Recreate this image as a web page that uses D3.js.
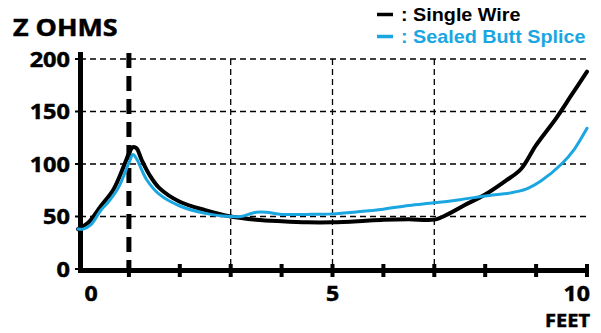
<!DOCTYPE html>
<html>
<head>
<meta charset="utf-8">
<script src="https://cdn.jsdelivr.net/npm/d3@7/dist/d3.min.js"></script>
<style>
  html, body { margin: 0; padding: 0; background: #fff; }
  svg { display: block; }
  .lbl { font-family: "Open Sans", "Noto Sans", sans-serif; font-weight: 700; fill: #000; stroke: #000; stroke-width: 0.5px; }
  .leg { font-family: "Liberation Sans", Arial, sans-serif; font-weight: 700; }
</style>
</head>
<body>
<svg id="chart" width="601" height="333"></svg>
<script>
// Impedance profile along the cable (distance in feet, impedance in ohms)
const singleWireFeet = [0, 0.2, 0.45, 0.7, 0.9, 1.0, 1.08, 1.15, 1.25, 1.4, 1.6, 2.0, 2.5, 3.0, 3.5, 4.0, 4.5, 5.0, 5.5, 6.0, 6.5, 7.0, 7.3, 7.6, 8.0, 8.4, 8.7, 9.0, 9.4, 9.7, 10.0];
const singleWireZ    = [38, 44, 60, 76, 98, 110, 116, 115, 104, 90, 77, 64, 56, 50, 47, 45.5, 44.5, 44.5, 45.5, 47, 47.5, 47, 53, 61, 71, 84, 95, 118, 144, 166, 188];

const sealedButtFeet = [0, 0.1, 0.25, 0.45, 0.6, 0.8, 1.0, 1.08, 1.15, 1.35, 1.6, 2.0, 2.5, 3.0, 3.2, 3.5, 3.7, 4.0, 4.5, 5.0, 5.5, 6.0, 6.5, 7.0, 7.5, 8.0, 8.5, 8.8, 9.1, 9.5, 9.75, 10.0];
const sealedButtZ    = [38, 38, 42, 56, 64, 78, 101, 109, 105, 85, 71, 60, 53, 50, 50, 54, 54, 52, 52, 52.5, 54.5, 57, 60.5, 63, 66, 69.5, 72.5, 76, 84, 100, 114, 134];

const yTicks = [0, 50, 100, 150, 200];
const xTicks = [1, 2, 3, 4, 5, 6, 7, 8, 9, 10];
const xLabels = [0, 5, 10];
const xGrid = [3, 5, 7];
const spliceMark = 1;

const legendItems = [
  { name: "Single Wire", color: "#000000" },
  { name: "Sealed Butt Splice", color: "#1aa6e0" }
];

const svg = d3.select("#chart");
const x = d3.scaleLinear().domain([0, 10]).range([78, 587]);
const y = d3.scaleLinear().domain([0, 200]).range([269, 59]);

// stretch a text node horizontally by a factor
function widen(sel, k) {
  sel.each(function () {
    const w = this.getComputedTextLength();
    d3.select(this).attr("textLength", w * k).attr("lengthAdjust", "spacingAndGlyphs");
  });
}

// horizontal grid
svg.append("g").selectAll("line").data(yTicks.filter(d => d > 0)).join("line")
  .attr("x1", 80).attr("x2", x(10))
  .attr("y1", d => y(d)).attr("y2", d => y(d))
  .attr("stroke", "#000").attr("stroke-width", 1.3).attr("stroke-dasharray", "6,4");

// vertical grid
svg.append("g").selectAll("line").data(xGrid).join("line")
  .attr("x1", d => x(d)).attr("x2", d => x(d))
  .attr("y1", y(200)).attr("y2", 270)
  .attr("stroke", "#000").attr("stroke-width", 1.3).attr("stroke-dasharray", "6,4");

// splice location marker
svg.append("line")
  .attr("x1", x(spliceMark)).attr("x2", x(spliceMark))
  .attr("y1", 53).attr("y2", 270)
  .attr("stroke", "#000").attr("stroke-width", 5).attr("stroke-dasharray", "15,8");

// y tick marks and labels
svg.append("g").selectAll("line").data(yTicks).join("line")
  .attr("x1", 75).attr("x2", 81)
  .attr("y1", d => y(d)).attr("y2", d => y(d))
  .attr("stroke", "#000").attr("stroke-width", 2);

svg.append("g").selectAll("text").data(yTicks).join("text")
  .attr("class", "lbl")
  .attr("x", 70).attr("y", d => y(d) + 7.5)
  .attr("text-anchor", "end")
  .attr("font-size", 21)
  .text(d => d)
  .call(widen, 1.12);

// x tick marks
svg.append("g").selectAll("line").data(xTicks).join("line")
  .attr("x1", d => x(d)).attr("x2", d => x(d))
  .attr("y1", 264).attr("y2", 277)
  .attr("stroke", "#000").attr("stroke-width", 4);

// axes
svg.append("line").attr("x1", 80.5).attr("x2", 80.5).attr("y1", 52).attr("y2", 273)
  .attr("stroke", "#000").attr("stroke-width", 5);
svg.append("line").attr("x1", 78).attr("x2", x(10) + 1).attr("y1", 270.5).attr("y2", 270.5)
  .attr("stroke", "#000").attr("stroke-width", 5);

// x labels
svg.append("g").selectAll("text").data(xLabels).join("text")
  .attr("class", "lbl")
  .attr("x", d => d === 0 ? 91 : d === 10 ? 590 : x(d))
  .attr("y", 301)
  .attr("text-anchor", d => d === 10 ? "end" : "middle")
  .attr("font-size", 21)
  .text(d => d)
  .call(widen, 1.1);

// axis titles
svg.append("text").attr("class", "lbl").attr("x", 13).attr("y", 36)
  .attr("font-size", 24).text("Z OHMS").call(widen, 1.12);
svg.append("text").attr("class", "lbl").attr("x", 590).attr("y", 327)
  .attr("text-anchor", "end").attr("font-size", 18.5).text("FEET").call(widen, 1.08);

// curves
const line = d3.line().x(d => x(d[0])).y(d => y(d[1])).curve(d3.curveCatmullRom.alpha(0.5));
svg.append("path")
  .datum(singleWireFeet.map((f, i) => [f, singleWireZ[i]]))
  .attr("fill", "none").attr("stroke", legendItems[0].color)
  .attr("stroke-width", 4).attr("stroke-linejoin", "round").attr("stroke-linecap", "round")
  .attr("d", line);
svg.append("path")
  .datum(sealedButtFeet.map((f, i) => [f, sealedButtZ[i]]))
  .attr("fill", "none").attr("stroke", legendItems[1].color)
  .attr("stroke-width", 3).attr("stroke-linejoin", "round").attr("stroke-linecap", "round")
  .attr("d", line);

// legend
const leg = svg.append("g").selectAll("g").data(legendItems).join("g")
  .attr("transform", (d, i) => `translate(0, ${21 + i * 22})`);
leg.append("line").attr("x1", 377).attr("x2", 393).attr("y1", -6.5).attr("y2", -6.5)
  .attr("stroke", d => d.color).attr("stroke-width", 3.5);
leg.append("text").attr("class", "leg").attr("x", 401).attr("y", 0)
  .attr("font-size", 19).attr("fill", d => d.color)
  .text(d => ": " + d.name)
  .call(widen, 1.04);
</script>
</body>
</html>
